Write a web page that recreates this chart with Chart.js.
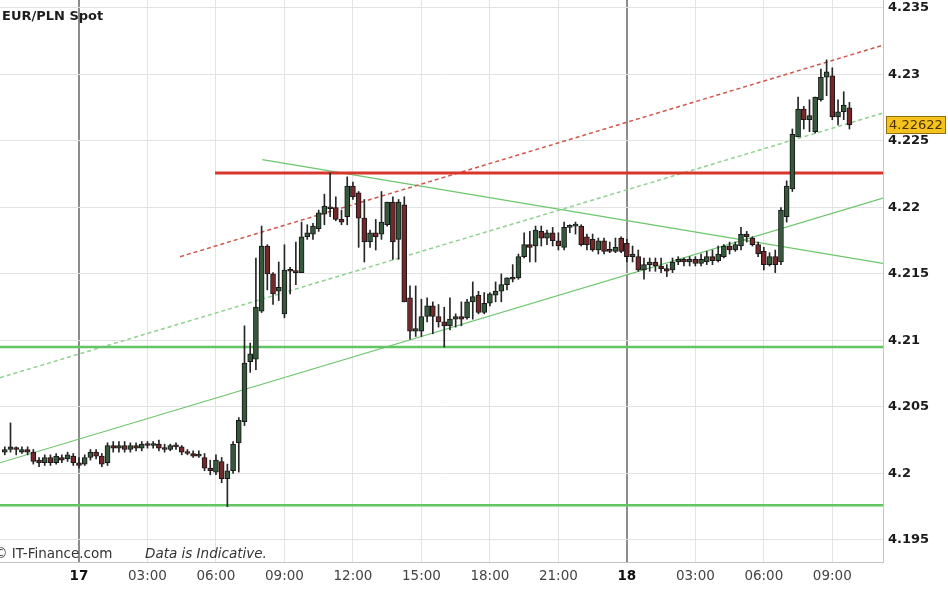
<!DOCTYPE html>
<html>
<head>
<meta charset="utf-8">
<script src="https://cdn.jsdelivr.net/npm/chart.js@4.4.0/dist/chart.umd.min.js"></script>
<style>
  html, body { margin: 0; padding: 0; background: #fff; }
  canvas { display: block; }
</style>
</head>
<body>
<canvas id="fxChart" width="948" height="593"></canvas>
<script>
// EUR/PLN spot, 15 minute candles from 16th 20:45 to 18th 09:45
// x values are hours counted from 17th 00:00
const firstHour = -3.25;
const stepHours = 0.25;

const open = [
  4.2016,4.2018,4.2019,4.2016,4.2018,4.2016,4.2010,4.2008,4.2012,4.2008,
  4.2012,4.2011,4.2013,4.2008,4.2007,4.2012,4.2016,4.2013,4.2008,4.2021,
  4.2019,4.2021,4.2018,4.2021,4.2019,4.2022,4.2021,4.2022,4.2019,4.2018,
  4.2021,4.2020,4.2016,4.2015,4.2013,4.2012,4.2004,4.2001,4.2009,4.1996,
  4.2002,4.2023,4.2039,4.2084,4.2086,4.2122,4.2171,4.2150,4.2137,4.2120,
  4.2153,4.2152,4.2151,4.2178,4.2180,4.2184,4.2195,4.2200,4.2200,4.2191,
  4.2193,4.2216,4.2211,4.2192,4.2174,4.2181,4.2180,4.2187,4.2204,4.2176,
  4.2202,4.2132,4.2107,4.2107,4.2118,4.2126,4.2118,4.2114,4.2111,4.2116,
  4.2118,4.2117,4.2129,4.2134,4.2121,4.2128,4.2134,4.2137,4.2142,4.2147,
  4.2147,4.2163,4.2172,4.2171,4.2182,4.2177,4.2181,4.2175,4.2170,4.2185,
  4.2186,4.2186,4.2178,4.2176,4.2168,4.2175,4.2168,4.2167,4.2177,4.2173,
  4.2163,4.2163,4.2153,4.2157,4.2159,4.2156,4.2154,4.2153,4.2159,4.2161,
  4.2159,4.2161,4.2158,4.2159,4.2163,4.2160,4.2163,4.2171,4.2168,4.2171,
  4.2180,4.2177,4.2172,4.2167,4.2157,4.2163,4.2159,4.2193,4.2214,4.2253,
  4.2274,4.2266,4.2257,4.2281,4.2298,4.2299,4.2268,4.2272,4.2275
];
const high = [
  4.2020,4.2038,4.2020,4.2020,4.2020,4.2018,4.2012,4.2014,4.2014,4.2015,
  4.2014,4.2016,4.2015,4.2012,4.2014,4.2018,4.2018,4.2015,4.2023,4.2024,
  4.2024,4.2024,4.2023,4.2023,4.2024,4.2024,4.2024,4.2025,4.2022,4.2022,
  4.2023,4.2021,4.2018,4.2017,4.2017,4.2015,4.2010,4.2014,4.2012,4.2007,
  4.2024,4.2042,4.2111,4.2098,4.2162,4.2186,4.2172,4.2151,4.2159,4.2172,
  4.2155,4.2174,4.2189,4.2187,4.2188,4.2198,4.2210,4.2226,4.2208,4.2198,
  4.2223,4.2219,4.2212,4.2206,4.2183,4.2191,4.2212,4.2204,4.2208,4.2206,
  4.2208,4.2141,4.2141,4.2131,4.2132,4.2129,4.2127,4.2125,4.2132,4.2120,
  4.2129,4.2131,4.2144,4.2137,4.2136,4.2136,4.2144,4.2150,4.2147,4.2157,
  4.2165,4.2181,4.2182,4.2186,4.2186,4.2183,4.2185,4.2181,4.2189,4.2187,
  4.2189,4.2187,4.2180,4.2180,4.2177,4.2177,4.2174,4.2177,4.2178,4.2176,
  4.2171,4.2168,4.2162,4.2162,4.2162,4.2162,4.2157,4.2162,4.2163,4.2162,
  4.2163,4.2163,4.2165,4.2167,4.2168,4.2171,4.2172,4.2174,4.2174,4.2185,
  4.2182,4.2178,4.2174,4.2170,4.2166,4.2168,4.2200,4.2220,4.2259,4.2283,
  4.2276,4.2281,4.2283,4.2304,4.2311,4.2305,4.2281,4.2287,4.2279
];
const low = [
  4.2014,4.2016,4.2014,4.2015,4.2014,4.2007,4.2005,4.2006,4.2006,4.2007,
  4.2008,4.2009,4.2006,4.2004,4.2006,4.2010,4.2011,4.2005,4.2006,4.2016,
  4.2016,4.2016,4.2016,4.2017,4.2017,4.2019,4.2019,4.2017,4.2016,4.2017,
  4.2018,4.2014,4.2014,4.2012,4.2012,4.2002,4.1999,4.1999,4.1993,4.1975,
  4.2000,4.2001,4.2036,4.2076,4.2078,4.2121,4.2138,4.2127,4.2130,4.2117,
  4.2135,4.2142,4.2151,4.2176,4.2176,4.2182,4.2187,4.2193,4.2190,4.2187,
  4.2187,4.2206,4.2170,4.2159,4.2170,4.2168,4.2176,4.2186,4.2161,4.2161,
  4.2129,4.2101,4.2103,4.2103,4.2114,4.2105,4.2110,4.2095,4.2108,4.2110,
  4.2111,4.2116,4.2116,4.2120,4.2120,4.2126,4.2129,4.2129,4.2138,4.2144,
  4.2146,4.2162,4.2159,4.2159,4.2171,4.2172,4.2171,4.2168,4.2168,4.2181,
  4.2180,4.2171,4.2168,4.2167,4.2165,4.2165,4.2166,4.2166,4.2166,4.2159,
  4.2159,4.2152,4.2146,4.2152,4.2152,4.2151,4.2148,4.2151,4.2157,4.2156,
  4.2156,4.2156,4.2156,4.2157,4.2157,4.2159,4.2162,4.2165,4.2167,4.2168,
  4.2174,4.2171,4.2163,4.2153,4.2156,4.2151,4.2157,4.2189,4.2212,4.2253,
  4.2259,4.2257,4.2256,4.2280,4.2284,4.2266,4.2262,4.2266,4.2259
];
const close = [
  4.2018,4.2020,4.2018,4.2018,4.2016,4.2009,4.2008,4.2012,4.2008,4.2013,
  4.2010,4.2014,4.2008,4.2006,4.2012,4.2016,4.2013,4.2007,4.2021,4.2019,
  4.2021,4.2018,4.2021,4.2019,4.2022,4.2021,4.2022,4.2019,4.2018,4.2021,
  4.2020,4.2016,4.2015,4.2013,4.2014,4.2004,4.2002,4.2010,4.1996,4.2002,
  4.2022,4.2040,4.2083,4.2090,4.2125,4.2171,4.2150,4.2135,4.2140,4.2153,
  4.2152,4.2151,4.2178,4.2181,4.2186,4.2196,4.2201,4.2199,4.2191,4.2189,
  4.2216,4.2208,4.2192,4.2174,4.2181,4.2178,4.2189,4.2204,4.2174,4.2204,
  4.2129,4.2107,4.2109,4.2118,4.2126,4.2118,4.2114,4.2111,4.2116,4.2118,
  4.2116,4.2129,4.2133,4.2121,4.2128,4.2135,4.2137,4.2142,4.2147,4.2146,
  4.2163,4.2172,4.2170,4.2183,4.2177,4.2181,4.2175,4.2171,4.2185,4.2186,
  4.2187,4.2172,4.2172,4.2168,4.2175,4.2167,4.2167,4.2170,4.2167,4.2163,
  4.2165,4.2153,4.2157,4.2159,4.2156,4.2154,4.2152,4.2159,4.2161,4.2159,
  4.2161,4.2158,4.2161,4.2163,4.2160,4.2165,4.2171,4.2168,4.2172,4.2180,
  4.2178,4.2172,4.2165,4.2157,4.2163,4.2157,4.2198,4.2216,4.2255,4.2274,
  4.2266,4.2269,4.2283,4.2298,4.2302,4.2268,4.2272,4.2277,4.22622
];

// drawn studies: [startHour, endHour] and [startPrice, endPrice]
const resistanceX = [5.96, 35.22],  resistanceY = [4.2226, 4.2226];
const supportHiX  = [-3.46, 35.22], supportHiY  = [4.2095, 4.2095];
const supportLoX  = [-3.46, 35.22], supportLoY  = [4.1976, 4.1976];
const channelTopX = [4.43, 35.22],  channelTopY = [4.2163, 4.2322];
const channelMidX = [-3.46, 35.22], channelMidY = [4.2072, 4.2271];
const trendDownX  = [8.03, 35.22],  trendDownY  = [4.2236, 4.2158];
const trendUpX    = [-3.46, 35.22], trendUpY    = [4.2008, 4.2207];

const yTicks = [4.195, 4.2, 4.205, 4.21, 4.215, 4.22, 4.225, 4.23, 4.235];
const xTickHours  = [0, 3, 6, 9, 12, 15, 18, 21, 24, 27, 30, 33];
const xTickLabels = ['17', '03:00', '06:00', '09:00', '12:00', '15:00', '18:00', '21:00', '18', '03:00', '06:00', '09:00'];
const dayTicks = [0, 24];

const xMin = -3.46, xMax = 35.22;
const yMin = 4.19334, yMax = 4.2356;

const lastPrice = close[close.length - 1];

function hourOf(i) { return firstHour + i * stepHours; }
function seg(xs, ys) { return [{x: xs[0], y: ys[0]}, {x: xs[1], y: ys[1]}]; }

function studyLine(label, xs, ys, color, width, dash) {
  return {
    type: 'line', label: label, data: seg(xs, ys),
    borderColor: color, borderWidth: width, borderDash: dash || [],
    pointRadius: 0, fill: false, tension: 0, order: 2
  };
}

const textPlugin = {
  id: 'textPlugin',
  afterDraw(chart) {
    const c = chart.ctx;
    const ys = chart.scales.y;
    c.save();
    c.textBaseline = 'middle';
    c.textAlign = 'left';

    c.fillStyle = '#1c1c1c';
    c.font = 'bold 13px "DejaVu Sans"';
    c.fillText('EUR/PLN Spot', 2, 17);

    c.fillStyle = '#333';
    c.font = '13.5px "DejaVu Sans"';
    c.fillText('\u00a9 IT-Finance.com', -6, 554);
    c.font = 'italic 13.5px "DejaVu Sans"';
    c.fillText('Data is Indicative.', 145, 554);

    // last price box
    const py = Math.round(ys.getPixelForValue(lastPrice));
    c.fillStyle = '#f5c21e';
    c.fillRect(886, py - 9, 60, 18);
    c.strokeStyle = '#8f6f10';
    c.lineWidth = 1;
    c.strokeRect(886.5, py - 8.5, 59, 17);
    c.fillStyle = '#4a3200';
    c.font = '13px "DejaVu Sans"';
    c.fillText(lastPrice.toFixed(5), 889, py + 1);
    c.restore();
  }
};

const ctx = document.getElementById('fxChart').getContext('2d');
const fxChart = new Chart(ctx, {
  type: 'bar',
  data: {
    datasets: [
      {
        label: 'body',
        data: open.map((o, i) => ({x: hourOf(i), y: [o, close[i]]})),
        backgroundColor: c => close[c.dataIndex] >= open[c.dataIndex] ? '#35593a' : '#74282a',
        borderColor: '#161616',
        borderWidth: 1,
        borderSkipped: false,
        barThickness: 5,
        minBarLength: 2,
        grouped: false,
        order: 0
      },
      {
        label: 'wick',
        data: high.map((h, i) => ({x: hourOf(i), y: [low[i], h]})),
        backgroundColor: '#262626',
        borderWidth: 0,
        barThickness: 1,
        grouped: false,
        order: 1
      },
      studyLine('resistance', resistanceX, resistanceY, '#d8352b', 3),
      studyLine('support 1', supportHiX, supportHiY, '#62c462', 2.5),
      studyLine('support 2', supportLoX, supportLoY, '#62c462', 2.5),
      studyLine('channel top', channelTopX, channelTopY, '#d0574a', 1.5, [4, 3]),
      studyLine('channel mid', channelMidX, channelMidY, '#8fd18f', 1.5, [4, 3]),
      studyLine('trend down', trendDownX, trendDownY, '#6cc66c', 1.2),
      studyLine('trend up', trendUpX, trendUpY, '#6cc66c', 1.2)
    ]
  },
  options: {
    responsive: false,
    animation: false,
    events: [],
    devicePixelRatio: 1,
    layout: { padding: 0 },
    plugins: { legend: { display: false }, tooltip: { enabled: false } },
    scales: {
      x: {
        type: 'linear',
        min: xMin, max: xMax,
        offset: false,
        afterBuildTicks: s => { s.ticks = xTickHours.map(v => ({value: v})); },
        afterFit: s => { s.height = 31; s.paddingLeft = 0; s.paddingRight = 0; },
        grid: {
          offset: false,
          drawTicks: false,
          color: c => dayTicks.includes(c.tick && c.tick.value) ? '#8c8c8c' : '#e3e3e3',
          lineWidth: c => dayTicks.includes(c.tick && c.tick.value) ? 2 : 1
        },
        border: { display: true, color: '#c4c4c4' },
        ticks: {
          autoSkip: false,
          maxRotation: 0,
          padding: 6,
          color: c => dayTicks.includes(c.tick && c.tick.value) ? '#111' : '#444',
          font: c => ({
            family: '"DejaVu Sans"', size: 13.5,
            weight: dayTicks.includes(c.tick && c.tick.value) ? 'bold' : 'normal'
          }),
          callback: v => xTickLabels[xTickHours.indexOf(v)]
        }
      },
      y: {
        type: 'linear',
        position: 'right',
        min: yMin, max: yMax,
        afterBuildTicks: s => { s.ticks = yTicks.map(v => ({value: v})); },
        afterFit: s => { s.width = 65; s.paddingTop = 0; s.paddingBottom = 0; },
        grid: { drawTicks: false, color: '#e3e3e3', lineWidth: 1 },
        border: { display: true, color: '#c4c4c4' },
        ticks: {
          padding: 5,
          color: '#1a1a1a',
          font: { family: '"DejaVu Sans"', size: 13, weight: 'bold' },
          callback: v => String(Number(v.toFixed(3)))
        }
      }
    }
  },
  plugins: [textPlugin]
});
</script>
</body>
</html>
